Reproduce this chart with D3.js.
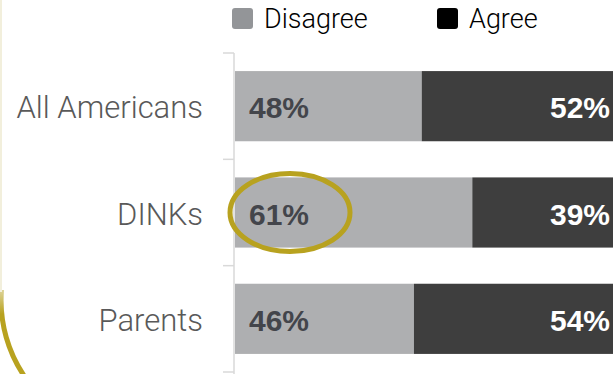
<!DOCTYPE html>
<html>
<head>
<meta charset="utf-8">
<script src="https://cdn.jsdelivr.net/npm/d3@7"></script>
<style>
  html, body { margin: 0; padding: 0; background: #fff; }
  svg { display: block; font-family: "Liberation Sans", Arial, sans-serif; }
</style>
</head>
<body>
<div id="chart"></div>
<script>
const groups = ["All Americans", "DINKs", "Parents"];
const disagree = [48, 61, 46];
const agree = [52, 39, 54];
const seriesNames = ["Disagree", "Agree"];

const width = 613, height = 374;
const margin = { top: 53, right: -11, bottom: 2, left: 235 };

const rows = groups.map((g, i) => ({ group: g, Disagree: disagree[i], Agree: agree[i] }));
const stacked = d3.stack().keys(seriesNames)(rows);

const svg = d3.select("#chart").append("svg")
    .attr("width", width)
    .attr("height", height);

const x = d3.scaleLinear()
    .domain([0, 100])
    .range([margin.left, width - margin.right]);

const y = d3.scaleBand()
    .domain(groups)
    .range([margin.top, height - margin.bottom])
    .paddingInner(0.34)
    .paddingOuter(0.17);

const barColor = d3.scaleOrdinal().domain(seriesNames).range(["#aeafb1", "#3e3e3e"]);
const legendColor = d3.scaleOrdinal().domain(seriesNames).range(["#939598", "#000000"]);
const labelColor = d3.scaleOrdinal().domain(seriesNames).range(["#43454b", "#ffffff"]);

// faint frame edge fading into the gold corner
const grad = svg.append("defs").append("linearGradient")
    .attr("id", "edge").attr("gradientUnits", "userSpaceOnUse")
    .attr("x1", 0).attr("y1", 0).attr("x2", 0).attr("y2", 374);
grad.append("stop").attr("offset", 0.74).attr("stop-color", "#f2efdc");
grad.append("stop").attr("offset", 0.84).attr("stop-color", "#b8a21f");

svg.append("path")
    .attr("d", "M 1.5,0 L 1.5,290 A 135,135 0 0 0 27,380")
    .attr("fill", "none")
    .attr("stroke", "url(#edge)")
    .attr("stroke-width", 5);
svg.append("rect")
    .attr("x", 0).attr("y", 0).attr("width", 4).attr("height", 290)
    .attr("fill", "#fff");
svg.append("line")
    .attr("x1", 1).attr("x2", 1).attr("y1", 0).attr("y2", 292)
    .attr("stroke", "#f2efdc").attr("stroke-width", 2);

// bars
const layer = svg.append("g").selectAll("g")
    .data(stacked)
    .join("g")
    .attr("fill", d => barColor(d.key));

layer.selectAll("rect")
    .data(d => d.map(v => ({ key: d.key, v })))
    .join("rect")
    .attr("x", d => x(d.v[0]))
    .attr("width", d => x(d.v[1]) - x(d.v[0]))
    .attr("y", d => y(d.v.data.group))
    .attr("height", y.bandwidth());

// y axis with boundary ticks
const axisX = margin.left - 1;
const edges = groups.map(g => y(g) - y.step() * y.paddingInner() / 2);
edges.push(y(groups[groups.length - 1]) + y.bandwidth() + y.step() * y.paddingInner() / 2);

const axis = svg.append("g").attr("stroke", "#d9d9d9").attr("stroke-width", 1.5);
axis.append("line")
    .attr("x1", axisX).attr("x2", axisX)
    .attr("y1", edges[0]).attr("y2", height);
axis.selectAll(".tk")
    .data(edges)
    .join("line")
    .attr("class", "tk")
    .attr("x1", axisX - 11).attr("x2", axisX)
    .attr("y1", d => d).attr("y2", d => d);

// category labels
svg.append("g").selectAll("text")
    .data(groups)
    .join("text")
    .attr("x", axisX - 31)
    .attr("y", d => y(d) + y.bandwidth() / 2 + 12)
    .attr("text-anchor", "end")
    .attr("font-family", "Roboto, 'Liberation Sans', sans-serif")
    .attr("font-weight", 300)
    .attr("font-size", 31)
    .attr("fill", "#595959")
    .text(d => d);

// value labels
svg.append("g").selectAll("text")
    .data(stacked.flatMap(s => s.map(v => ({ key: s.key, v }))))
    .join("text")
    .attr("x", d => d.key === "Disagree" ? x(d.v[0]) + 14 : width - 3)
    .attr("y", d => y(d.v.data.group) + y.bandwidth() / 2 + 12)
    .attr("text-anchor", d => d.key === "Disagree" ? "start" : "end")
    .attr("font-size", 30)
    .attr("font-weight", "bold")
    .attr("fill", d => labelColor(d.key))
    .text(d => `${d.v.data[d.key]}%`);

// highlight ellipse on DINKs
svg.append("ellipse")
    .attr("cx", x(0) + 55)
    .attr("cy", y("DINKs") + y.bandwidth() / 2)
    .attr("rx", 60)
    .attr("ry", 39)
    .attr("fill", "none")
    .attr("stroke", "#b8a21f")
    .attr("stroke-width", 5);

// legend
const legendX = [232, 437];
const legend = svg.append("g").selectAll("g")
    .data(seriesNames)
    .join("g")
    .attr("transform", (d, i) => `translate(${legendX[i]},8)`);
legend.append("rect")
    .attr("width", 21).attr("height", 21).attr("rx", 3)
    .attr("fill", d => legendColor(d));
legend.append("text")
    .attr("x", 32).attr("y", 20)
    .attr("font-family", "Roboto, 'Liberation Sans', sans-serif")
    .attr("font-weight", 300)
    .attr("font-size", 27)
    .attr("fill", "#000")
    .text(d => d);
</script>
</body>
</html>
